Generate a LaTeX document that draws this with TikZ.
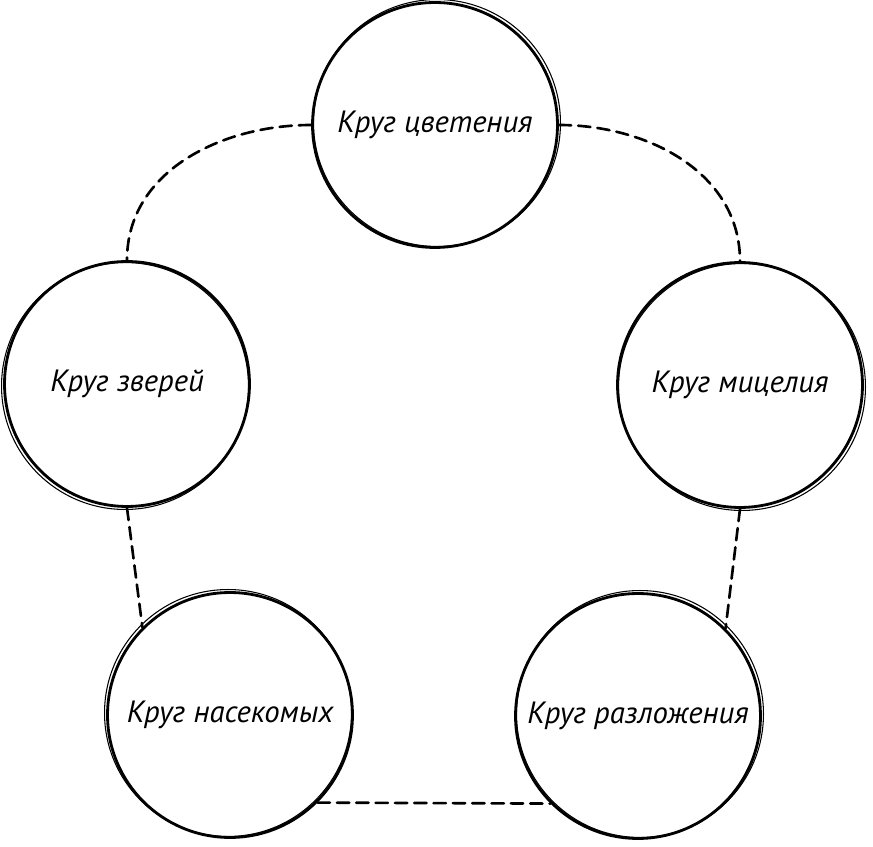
\documentclass[tikz,border=0pt]{standalone}
\usepackage{fontspec}
\setmainfont{PT Sans}
\begin{document}
\begin{tikzpicture}[x=0.02cm, y=-0.02cm, line join=round, line cap=round,
	krug/.style={draw, circle, line width=1.6pt, minimum size=4.9cm, inner sep=0pt,
		font=\fontsize{17.5}{20}\selectfont\itshape},
	svyaz/.style={line width=1.5pt, dash pattern=on 7pt off 4pt}]
	\useasboundingbox (0,0) rectangle (873,847);
	\coordinate (C1) at (435,125);
	\coordinate (C2) at (127,384);
	\coordinate (C3) at (740,385);
	\coordinate (C4) at (230,715);
	\coordinate (C5) at (638,716);
	% Круги
	\node[krug] (bloom) at (C1) {Круг цветения};
	\node[krug] (beasts) at (C2) {Круг зверей};
	\node[krug] (mycel) at (C3) {Круг мицелия};
	\node[krug] (insects) at (C4) {Круг насекомых};
	\node[krug] (decay) at (C5) {Круг разложения};
	% Второй штрих
	\draw[line width=0.6pt] ([shift={(2,-2)}]C1) circle (2.47cm);
	\draw[line width=0.6pt] ([shift={(-2,2)}]C2) circle (2.47cm);
	\draw[line width=0.6pt] ([shift={(2,2)}]C3) circle (2.47cm);
	\draw[line width=0.6pt] ([shift={(-2,-2)}]C4) circle (2.47cm);
	\draw[line width=0.6pt] ([shift={(2,-2)}]C5) circle (2.47cm);
	% Связи
	\draw[svyaz] (bloom.west) to[out=180, in=90] (beasts.north);
	\draw[svyaz] (bloom.east) to[out=0, in=90] (mycel.north);
	\draw[svyaz] (beasts.south) -- (insects.135);
	\draw[svyaz] (mycel.south) -- (decay.45);
	\draw[svyaz] (insects.-45) -- (decay.-135);
\end{tikzpicture}
\end{document}
